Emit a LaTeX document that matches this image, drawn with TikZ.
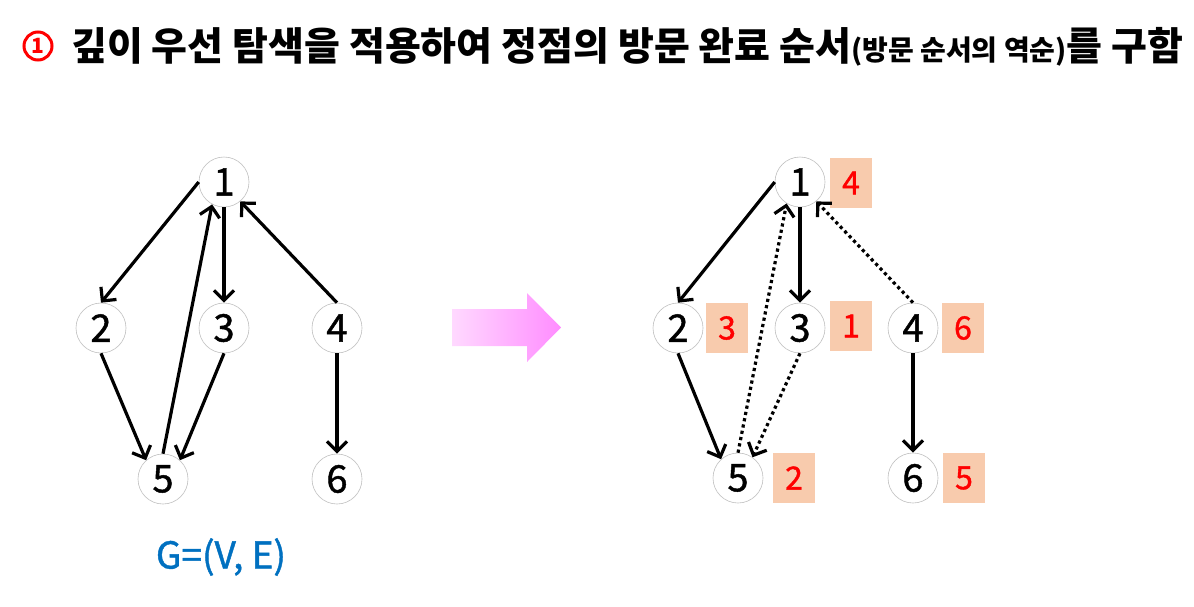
\documentclass[tikz,border=0pt]{standalone}
\usepackage{fontspec}
\newfontfamily\kr{Noto Sans CJK KR}
\newfontfamily\krm[FakeBold=1.2]{Noto Sans CJK KR}
\usetikzlibrary{arrows.meta}
\definecolor{peach}{HTML}{F8CBAD}
\definecolor{gblue}{HTML}{0070C0}
\pgfdeclareradialshading{nodeball}{\pgfpoint{-8bp}{8bp}}{color(0bp)=(white); color(28bp)=(white); color(40bp)=(black!16); color(50bp)=(black!50)}
\tikzset{
  vtx/.style={circle, minimum size=50pt, inner sep=0pt, shading=nodeball, draw=black!25, line width=0.6pt, font=\krm\fontsize{38}{38}\selectfont, text=black},
  ord/.style={rectangle, minimum width=42pt, minimum height=50pt, inner sep=0pt, fill=peach, font=\krm\fontsize{32}{32}\selectfont, text=red},
  myarc/.style={draw=black, line width=3.2pt, -{Straight Barb[length=10pt,width=20pt,line width=3.2pt]}},
  mydots/.style={myarc, dash pattern=on 3.2pt off 3.2pt},
}
\begin{document}
\begin{tikzpicture}[x=1pt,y=1pt]
\useasboundingbox (0,-606) rectangle (1194,0);
% title
\node[circle, draw=red, line width=3pt, minimum size=28pt, inner sep=0pt, text=red, font=\kr\bfseries\fontsize{21}{21}\selectfont] (c1) at (38,-46) {1};
\node[anchor=west, inner sep=0pt, font=\kr\bfseries\fontsize{39}{39}\selectfont] (title) at (71,-47) {깊이 우선 탐색을 적용하여 정점의 방문 완료 순서{\fontsize{28}{28}\selectfont(방문 순서의 역순)}를 구함};
% left graph
\node[vtx] (a1) at (224,-182) {1};
\node[vtx] (a2) at (101,-328) {2};
\node[vtx] (a3) at (224,-328) {3};
\node[vtx] (a4) at (337,-328) {4};
\node[vtx] (a5) at (163,-479) {5};
\node[vtx] (a6) at (337,-479) {6};
\draw[myarc] (a1.west) -- (a2.north);
\draw[myarc] (a1.south) -- (a3.north);
\draw[myarc] (a4.north) -- (a1.-50);
\draw[myarc] (a5.north) -- (a1.-118);
\draw[myarc] (a2.south) -- (a5.132);
\draw[myarc] (a3.south) -- (a5.48);
\draw[myarc] (a4.south) -- (a6.north);
\node[font=\krm\fontsize{37}{37}\selectfont, text=gblue] (g) at (221,-557) {G=(V, E)};
% arrow
\shade[left color=magenta!15, right color=magenta!45] (452,-309) -- (527,-309) -- (527,-293) -- (561,-327.5) -- (527,-362) -- (527,-346) -- (452,-346) -- cycle;
% right graph
\node[vtx] (b1) at (800,-182) {1};
\node[vtx] (b2) at (678,-328) {2};
\node[vtx] (b3) at (800,-328) {3};
\node[vtx] (b4) at (913,-328) {4};
\node[vtx] (b5) at (738,-478) {5};
\node[vtx] (b6) at (913,-478) {6};
\node[ord] (o1) at (851,-183) {4};
\node[ord] (o2) at (727,-328) {3};
\node[ord] (o3) at (851,-326) {1};
\node[ord] (o4) at (963,-328) {6};
\node[ord] (o5) at (794,-478) {2};
\node[ord] (o6) at (964,-478) {5};
\draw[myarc] (b1.west) -- (b2.north);
\draw[myarc] (b1.south) -- (b3.north);
\draw[myarc] (b2.south) -- (b5.132);
\draw[myarc] (b4.south) -- (b6.north);
\draw[mydots] (b5.north) -- (b1.-122);
\draw[mydots] (b3.south) -- (b5.55);
\draw[mydots] (b4.north) -- (b1.-50);
\end{tikzpicture}
\end{document}
